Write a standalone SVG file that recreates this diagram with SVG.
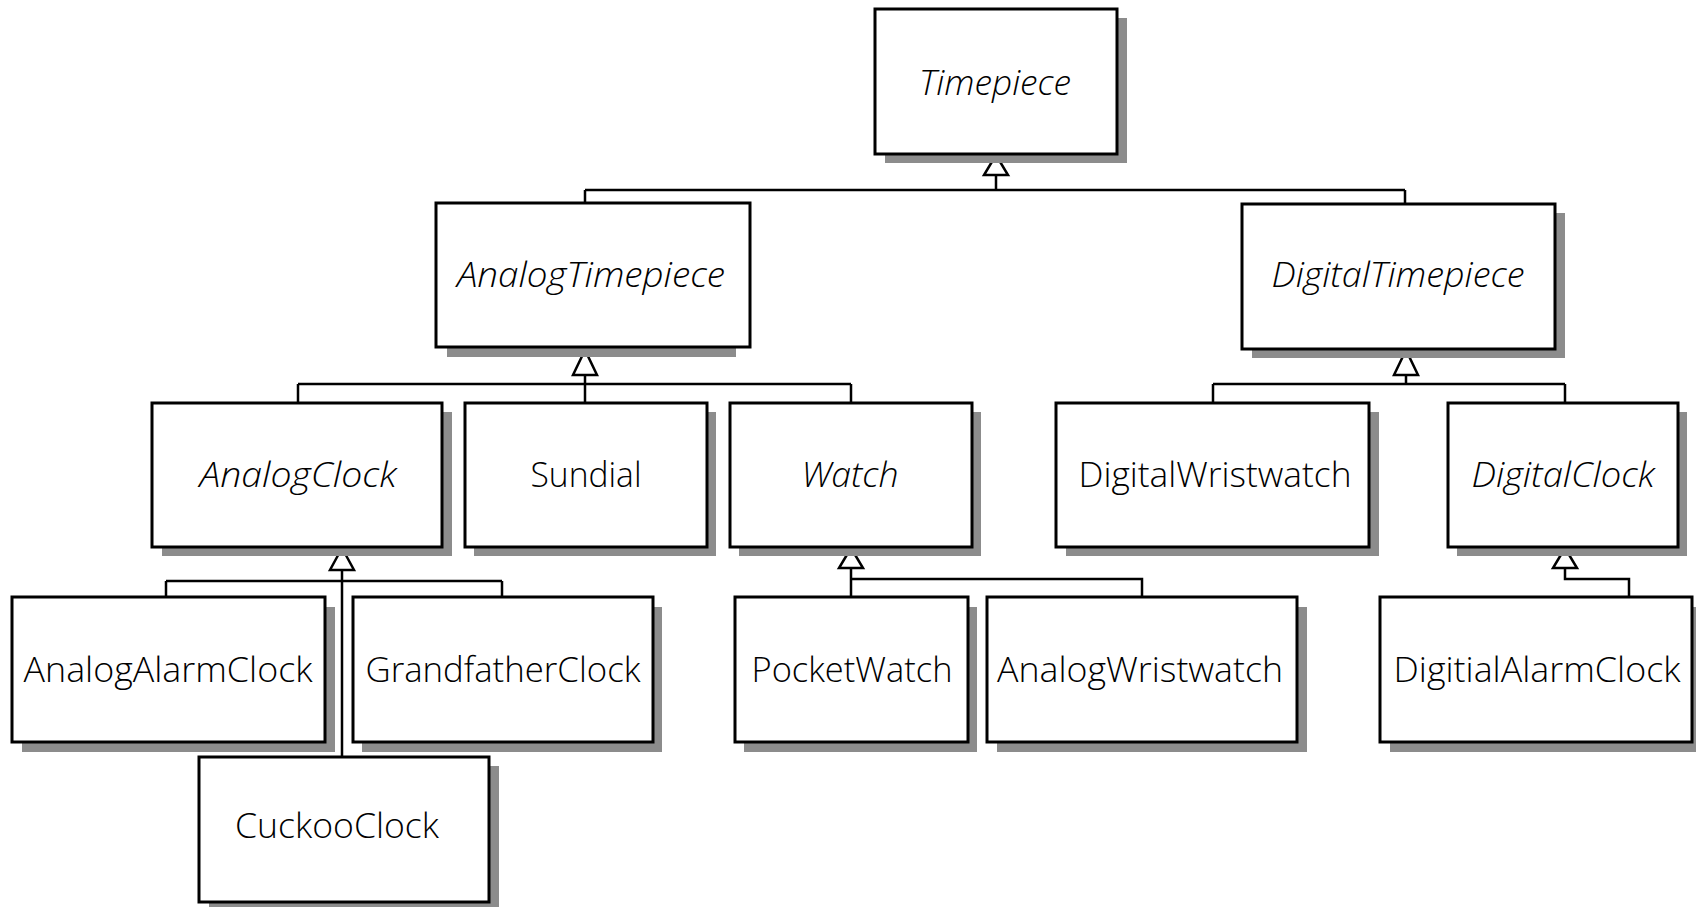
<svg xmlns="http://www.w3.org/2000/svg" width="1696" height="907" viewBox="0 0 1696 907">
<defs>
<style>
.sh{fill:#8c8c8c;stroke:none}
.bx{fill:#fff;stroke:#000;stroke-width:3}
.t{font-family:"Open Sans","Noto Sans","Liberation Sans",sans-serif;font-size:34px;font-weight:300;text-anchor:middle;fill:#000}
.i{font-style:italic}
.c{fill:none;stroke:#000;stroke-width:2.5}
.tri{fill:#fff;stroke:#000;stroke-width:2.5;stroke-linejoin:miter}
</style>
</defs>
<rect width="1696" height="907" fill="#fff"/>
<g id="connectors">
<path class="c" d="M996,175V190M585,190H1405M585,190V203M1405,190V204"/>
<path class="c" d="M585,375V402M298,384H851M298,384V403M851,384V403"/>
<path class="c" d="M1406,375V384M1213,384H1565M1213,384V403M1565,384V403"/>
<path class="c" d="M342,570V757M166,581H502M166,581V597M502,581V597"/>
<path class="c" d="M851,568V597M851,579H1142V597"/>
<path class="c" d="M1565,568V579H1629V597"/>
<polygon class="tri" points="996,155 984,175 1008,175"/>
<polygon class="tri" points="585,350 573,375 597,375"/>
<polygon class="tri" points="1406,350 1394,375 1418,375"/>
<polygon class="tri" points="342,548 330,570 354,570"/>
<polygon class="tri" points="851,548 839,568 863,568"/>
<polygon class="tri" points="1565,548 1553,568 1577,568"/>
</g>
<g id="Timepiece"><rect class="sh" x="885" y="18" width="242" height="145"/><rect class="bx" x="875" y="9" width="242" height="145"/><text class="t i" x="995" y="95" textLength="152" lengthAdjust="spacingAndGlyphs">Timepiece</text></g>
<g id="AnalogTimepiece"><rect class="sh" x="447" y="213" width="289" height="144"/><rect class="bx" x="436" y="203" width="314" height="144"/><text class="t i" x="591" y="287" textLength="268" lengthAdjust="spacingAndGlyphs">AnalogTimepiece</text></g>
<g id="DigitalTimepiece"><rect class="sh" x="1252" y="213" width="313" height="145"/><rect class="bx" x="1242" y="204" width="313" height="145"/><text class="t i" x="1398" y="287" textLength="253" lengthAdjust="spacingAndGlyphs">DigitalTimepiece</text></g>
<g id="AnalogClock"><rect class="sh" x="162" y="412" width="290" height="144"/><rect class="bx" x="152" y="403" width="290" height="144"/><text class="t i" x="298" y="487" textLength="197" lengthAdjust="spacingAndGlyphs">AnalogClock</text></g>
<g id="Sundial"><rect class="sh" x="474" y="412" width="242" height="144"/><rect class="bx" x="465" y="403" width="242" height="144"/><text class="t" x="586" y="487" textLength="111" lengthAdjust="spacingAndGlyphs">Sundial</text></g>
<g id="Watch"><rect class="sh" x="739" y="412" width="242" height="144"/><rect class="bx" x="730" y="403" width="242" height="144"/><text class="t i" x="850" y="487" textLength="97" lengthAdjust="spacingAndGlyphs">Watch</text></g>
<g id="DigitalWristwatch"><rect class="sh" x="1066" y="412" width="313" height="144"/><rect class="bx" x="1056" y="403" width="313" height="144"/><text class="t" x="1215" y="487" textLength="273" lengthAdjust="spacingAndGlyphs">DigitalWristwatch</text></g>
<g id="DigitalClock"><rect class="sh" x="1457" y="412" width="230" height="144"/><rect class="bx" x="1448" y="403" width="230" height="144"/><text class="t i" x="1563" y="487" textLength="183" lengthAdjust="spacingAndGlyphs">DigitalClock</text></g>
<g id="AnalogAlarmClock"><rect class="sh" x="22" y="607" width="313" height="145"/><rect class="bx" x="12" y="597" width="313" height="145"/><text class="t" x="168" y="682" textLength="289" lengthAdjust="spacingAndGlyphs">AnalogAlarmClock</text></g>
<g id="GrandfatherClock"><rect class="sh" x="362" y="607" width="300" height="145"/><rect class="bx" x="353" y="597" width="300" height="145"/><text class="t" x="503" y="682" textLength="275" lengthAdjust="spacingAndGlyphs">GrandfatherClock</text></g>
<g id="PocketWatch"><rect class="sh" x="744" y="607" width="233" height="145"/><rect class="bx" x="735" y="597" width="233" height="145"/><text class="t" x="852" y="682" textLength="201" lengthAdjust="spacingAndGlyphs">PocketWatch</text></g>
<g id="AnalogWristwatch"><rect class="sh" x="997" y="607" width="310" height="145"/><rect class="bx" x="987" y="597" width="310" height="145"/><text class="t" x="1140" y="682" textLength="286" lengthAdjust="spacingAndGlyphs">AnalogWristwatch</text></g>
<g id="DigitialAlarmClock"><rect class="sh" x="1390" y="607" width="312" height="145"/><rect class="bx" x="1380" y="597" width="312" height="145"/><text class="t" x="1537" y="682" textLength="287" lengthAdjust="spacingAndGlyphs">DigitialAlarmClock</text></g>
<g id="CuckooClock"><rect class="sh" x="209" y="766" width="290" height="145"/><rect class="bx" x="199" y="757" width="290" height="145"/><text class="t" x="337" y="838" textLength="204" lengthAdjust="spacingAndGlyphs">CuckooClock</text></g>
</svg>
